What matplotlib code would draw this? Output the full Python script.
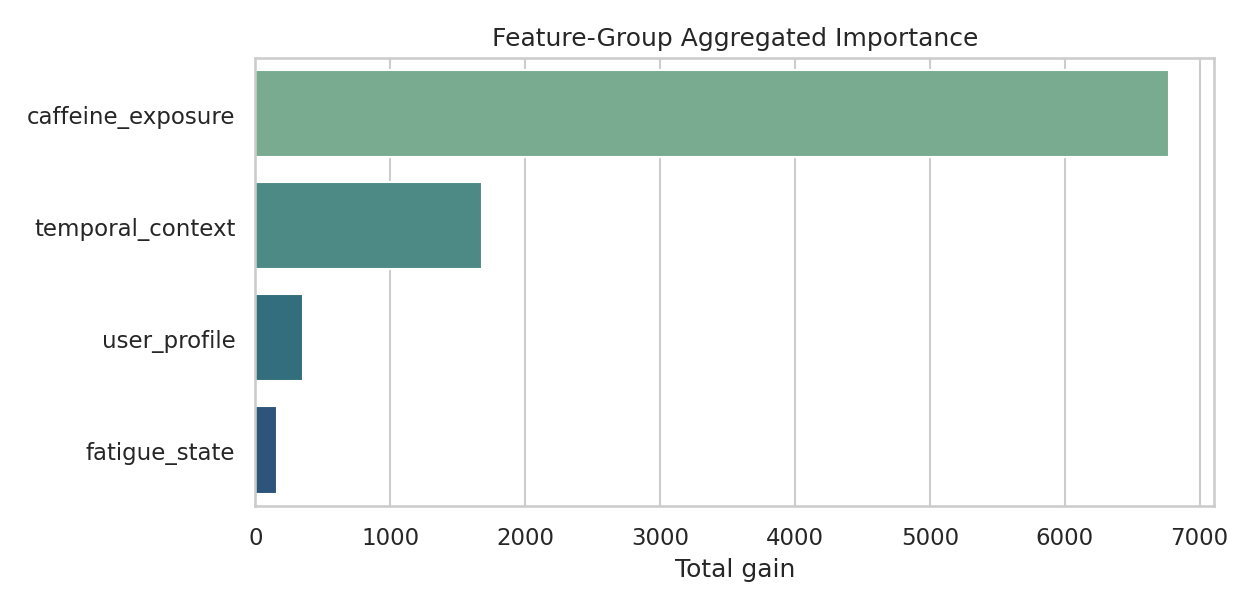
import matplotlib
matplotlib.use("Agg")
import matplotlib.pyplot as plt
import seaborn as sns

groups = ["caffeine_exposure", "temporal_context", "user_profile", "fatigue_state"]
gains = [6770, 1683, 354, 162]

sns.set_theme(style="whitegrid")
fig, ax = plt.subplots(figsize=(8.37, 4.06), dpi=150)
colors = ["#79ab91", "#4d8a85", "#326e7e", "#2d557b"]
ax.barh(groups, gains, color=colors, height=0.78)
ax.invert_yaxis()
ax.set_ylim(3.5, -0.5)
ax.grid(axis="y", visible=False)
ax.set_xlabel("Total gain")
ax.set_title("Feature-Group Aggregated Importance")
fig.tight_layout()
fig.savefig("out.png", dpi=150)
